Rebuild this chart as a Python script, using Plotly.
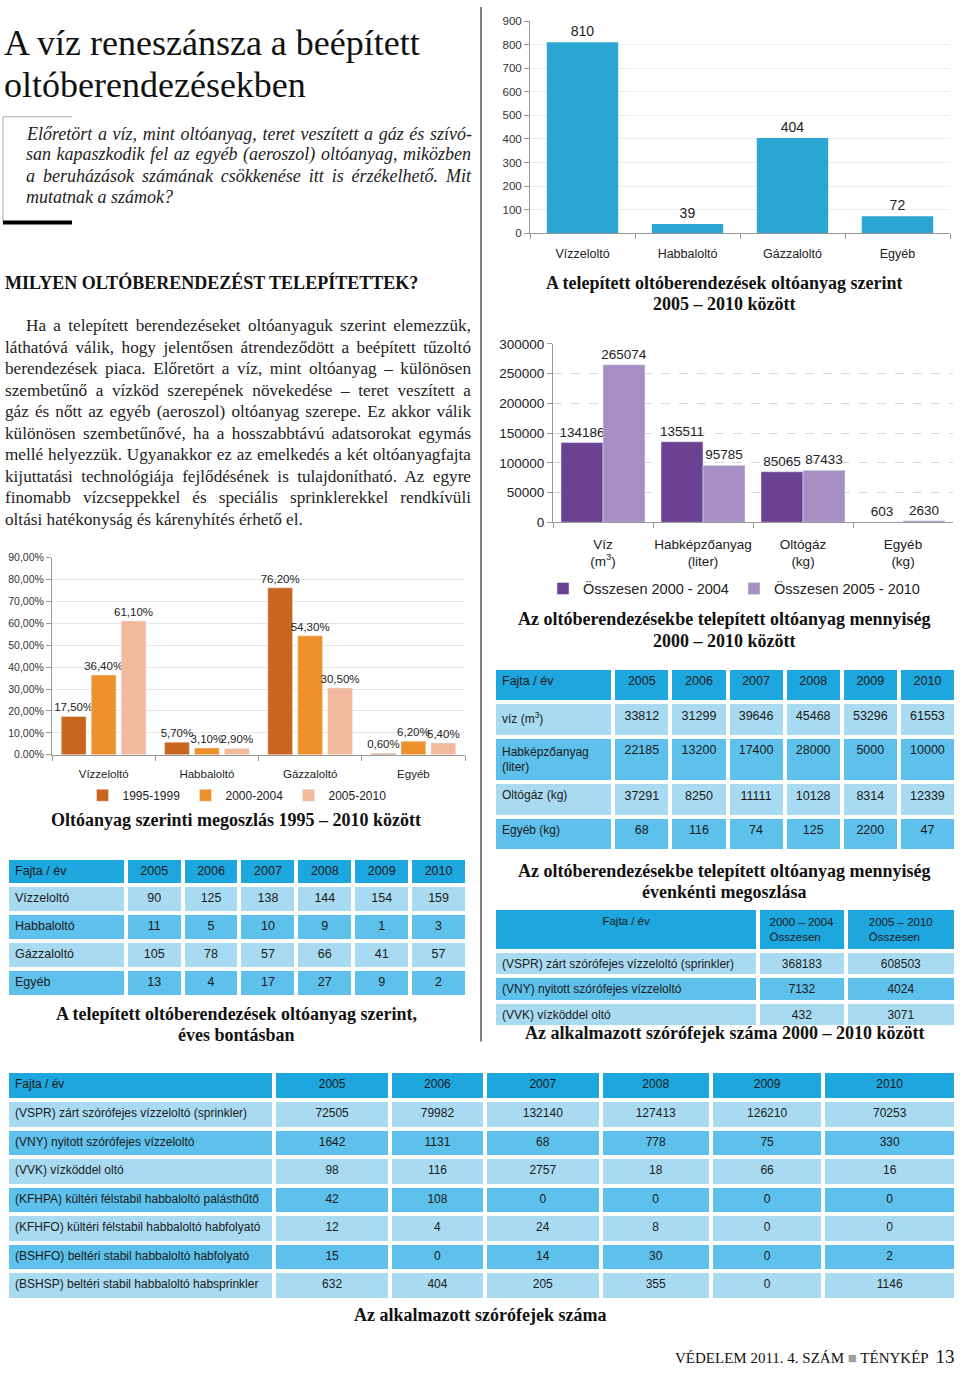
import json
import plotly.graph_objects as go

W, H = 960, 1373

# ---------------- DATA ----------------
cat_inst = ["Vízzeloltó", "Habbaloltó", "Gázzaloltó", "Egyéb"]
inst_total = [810, 39, 404, 72]

cat_agent = ["Víz<br>(m<sup>3</sup>)", "Habképzőanyag<br>(liter)", "Oltógáz<br>(kg)", "Egyéb<br>(kg)"]
agent_0004 = [134186, 135511, 85065, 603]
agent_0510 = [265074, 95785, 87433, 2630]

share_9599 = [17.5, 5.7, 76.2, 0.6]
share_0004 = [36.4, 3.1, 54.3, 6.2]
share_0510 = [61.1, 2.9, 30.5, 5.4]
share_ticks = [0, 10, 20, 30, 40, 50, 60, 70, 80, 90]
share_ticktext = ["0.00%", "10,00%", "20,00%", "30,00%", "40,00%", "50,00%",
                  "60,00%", "70,00%", "80,00%", "90,00%"]

years = ["2005", "2006", "2007", "2008", "2009", "2010"]

qty_rows = ["víz (m<sup>3</sup>)", "Habképzőanyag<br>(liter)", "Oltógáz (kg)", "Egyéb (kg)"]
qty_vals = [
    [33812, 31299, 39646, 45468, 53296, 61553],
    [22185, 13200, 17400, 28000, 5000, 10000],
    [37291, 8250, 11111, 10128, 8314, 12339],
    [68, 116, 74, 125, 2200, 47],
]

inst_rows = ["Vízzeloltó", "Habbaloltó", "Gázzaloltó", "Egyéb"]
inst_vals = [
    [90, 125, 138, 144, 154, 159],
    [11, 5, 10, 9, 1, 3],
    [105, 78, 57, 66, 41, 57],
    [13, 4, 17, 27, 9, 2],
]

head_rows = ["(VSPR) zárt szórófejes vízzeloltó (sprinkler)",
             "(VNY) nyitott szórófejes vízzeloltó",
             "(VVK) vízköddel oltó"]
head_period_cols = ["2000 – 2004<br>Összesen", "2005 – 2010<br>Összesen"]
head_period_vals = [[368183, 608503], [7132, 4024], [432, 3071]]

nozzle_rows = ["(VSPR) zárt szórófejes vízzeloltó (sprinkler)",
               "(VNY) nyitott szórófejes vízzeloltó",
               "(VVK) vízköddel oltó",
               "(KFHPA) kültéri félstabil habbaloltó palásthűtő",
               "(KFHFO) kültéri félstabil habbaloltó habfolyató",
               "(BSHFO) beltéri stabil habbaloltó habfolyató",
               "(BSHSP) beltéri stabil habbaloltó habsprinkler"]
nozzle_vals = [
    [72505, 79982, 132140, 127413, 126210, 70253],
    [1642, 1131, 68, 778, 75, 330],
    [98, 116, 2757, 18, 66, 16],
    [42, 108, 0, 0, 0, 0],
    [12, 4, 24, 8, 0, 0],
    [15, 0, 14, 30, 0, 2],
    [632, 404, 205, 355, 0, 1146],
]

intro = ["Előretört a víz, mint oltóanyag, teret veszített a gáz és szívó-",
         "san kapaszkodik fel az egyéb (aeroszol) oltóanyag, miközben",
         "a beruházások számának csökkenése itt is érzékelhető. Mit",
         "mutatnak a számok?"]

body = ["Ha a telepített berendezéseket oltóanyaguk szerint elemezzük,",
        "láthatóvá válik, hogy jelentősen átrendeződött a beépített tűzoltó",
        "berendezések piaca. Előretört a víz, mint oltóanyag – különösen",
        "szembetűnő a vízköd szerepének növekedése – teret veszített a",
        "gáz és nőtt az egyéb (aeroszol) oltóanyag szerepe. Ez akkor válik",
        "különösen szembetűnővé, ha a hosszabbtávú adatsorokat egymás",
        "mellé helyezzük. Ugyanakkor ez az emelkedés a két oltóanyagfajta",
        "kijuttatási technológiája fejlődésének is tulajdonítható. Az egyre",
        "finomabb vízcseppekkel és speciális sprinklerekkel rendkívüli",
        "oltási hatékonyság és kárenyhítés érhető el."]

# ---------------- STYLE ----------------
SERIF = "Liberation Serif, Times New Roman, serif"
SANS = "Liberation Sans, Arial, sans-serif"
HEAD_C = "#1ea6de"
LIGHT_C = "#a8daf2"
MED_C = "#5dc1eb"
TXT = "#1a1a1a"


def px(x):
    return x / W


def py(y):
    return 1 - y / H


fig = go.Figure()

# ---------------- CHART 1: installed by type ----------------
fig.add_trace(go.Bar(
    x=cat_inst, y=inst_total, xaxis="x", yaxis="y", width=0.68,
    marker=dict(color="#2ba5d1", line=dict(width=0)),
    text=[str(v) for v in inst_total], textposition="outside", constraintext="none",
    textfont=dict(family=SANS, size=14, color="#222"),
    cliponaxis=False, showlegend=False,
))

# ---------------- CHART 2: agent quantities ----------------
fig.add_trace(go.Bar(
    x=cat_agent, y=agent_0004, xaxis="x2", yaxis="y2", name="Összesen 2000 - 2004",
    marker=dict(color="#6a4291"), legend="legend", width=0.42, offset=-0.42,
    text=[str(v) for v in agent_0004], textposition="outside", constraintext="none",
    textfont=dict(family=SANS, size=13.5, color="#222"), cliponaxis=False,
))
fig.add_trace(go.Bar(
    x=cat_agent, y=agent_0510, xaxis="x2", yaxis="y2", name="Összesen 2005 - 2010",
    marker=dict(color="#a68fc3"), legend="legend", width=0.42, offset=0.0,
    text=[str(v) for v in agent_0510], textposition="outside", constraintext="none",
    textfont=dict(family=SANS, size=13.5, color="#222"), cliponaxis=False,
))

# ---------------- CHART 3: share by agent ----------------
def pct(v):
    return f"{v:.2f}".replace(".", ",") + "%"

for name, vals, col, off in [("1995-1999", share_9599, "#c9651d", -0.41),
                             ("2000-2004", share_0004, "#ef912a", -0.12),
                             ("2005-2010", share_0510, "#f3b99c", 0.17)]:
    fig.add_trace(go.Bar(
        x=cat_inst, y=vals, xaxis="x3", yaxis="y3", name=name, legend="legend2",
        marker=dict(color=col), width=0.24, offset=off,
        text=[pct(v) for v in vals], textposition="outside", constraintext="none",
        textfont=dict(family=SANS, size=11.5, color="#222"), cliponaxis=False,
    ))

# ---------------- TABLES ----------------
def fills(nrows, ncols):
    col = [LIGHT_C if r % 2 == 0 else MED_C for r in range(nrows)]
    return [col] * ncols


LINE = dict(color="white", width=4)

# right table 1: quantities per year
fig.add_trace(go.Table(
    domain=dict(x=[px(494), px(956)], y=[py(900), py(668)]),
    columnwidth=[119, 57, 57, 57, 57, 57, 57],
    header=dict(values=["Fajta / év"] + years, fill_color=HEAD_C, line=LINE, height=34.5,
                align=["left"] + ["center"] * 6,
                font=dict(family=SANS, size=12.5, color=TXT)),
    cells=dict(values=[qty_rows] + [[row[i] for row in qty_vals] for i in range(6)],
               fill_color=fills(4, 7), line=LINE, height=34.5,
               align=["left"] + ["center"] * 6,
               font=dict(family=SANS, size=[12] + [12.5] * 6, color=TXT)),
))

# left table: installed per year
fig.add_trace(go.Table(
    domain=dict(x=[px(7), px(467)], y=[py(1010), py(860)]),
    columnwidth=[119, 57, 57, 57, 57, 57, 57],
    header=dict(values=["Fajta / év"] + years, fill_color=HEAD_C, line=LINE, height=27,
                align=["left"] + ["center"] * 6,
                font=dict(family=SANS, size=12.5, color=TXT)),
    cells=dict(values=[inst_rows] + [[row[i] for row in inst_vals] for i in range(6)],
               fill_color=fills(4, 7), line=LINE, height=28,
               align=["left"] + ["center"] * 6,
               font=dict(family=SANS, size=12.5, color=TXT)),
))

# right table 2: nozzle heads by period
fig.add_trace(go.Table(
    domain=dict(x=[px(494), px(956)], y=[py(1060), py(911)]),
    columnwidth=[263, 87, 110],
    header=dict(values=["Fajta / év"] + head_period_cols, fill_color=HEAD_C, line=LINE,
                height=36, align=["center"] * 3,
                font=dict(family=SANS, size=11.5, color=TXT)),
    cells=dict(values=[head_rows] + [[row[i] for row in head_period_vals] for i in range(2)],
               fill_color=fills(3, 3), line=LINE, height=25.5,
               align=["left", "center", "center"],
               font=dict(family=SANS, size=12, color=TXT)),
))

# bottom table: nozzle heads per year
fig.add_trace(go.Table(
    domain=dict(x=[px(7), px(956)], y=[py(1330), py(1076)]),
    columnwidth=[264, 114, 94, 114, 109, 111, 131],
    header=dict(values=["Fajta / év"] + years, fill_color=HEAD_C, line=LINE, height=29,
                align=["left"] + ["center"] * 6,
                font=dict(family=SANS, size=12, color=TXT)),
    cells=dict(values=[nozzle_rows] + [[row[i] for row in nozzle_vals] for i in range(6)],
               fill_color=fills(7, 7), line=LINE, height=28.5,
               align=["left"] + ["center"] * 6,
               font=dict(family=SANS, size=12, color=TXT)),
))

# ---------------- AXES ----------------
axis_common = dict(showline=True, linecolor="#999", linewidth=1, ticks="outside",
                   tickcolor="#999", ticklen=5, fixedrange=True)

layout_axes = dict(
    xaxis=dict(domain=[px(530), px(950)], anchor="y", tickson="boundaries", tickangle=0,
               ticklabelstandoff=9,
               tickfont=dict(family=SANS, size=12.5, color="#222"), **axis_common),
    yaxis=dict(domain=[py(228.7), py(14.3)], anchor="x", range=[0, 900], dtick=100,
               showgrid=True, gridcolor="#ececec",
               tickfont=dict(family=SANS, size=11.5, color="#333"), **axis_common),
    xaxis2=dict(domain=[px(553), px(953)], anchor="y2", tickson="boundaries", tickangle=0,
                ticklabelstandoff=9,
                tickfont=dict(family=SANS, size=13.5, color="#222"), **axis_common),
    yaxis2=dict(domain=[py(521), py(340.7)], anchor="x2", range=[0, 300000], dtick=50000,
                tickformat="d", showgrid=True, gridcolor="#d9d9d9", griddash="dash",
                tickfont=dict(family=SANS, size=13.5, color="#222"), **axis_common),
    xaxis3=dict(domain=[px(52), px(465)], anchor="y3", tickson="boundaries", tickangle=0,
                ticklabelstandoff=8,
                tickfont=dict(family=SANS, size=11.5, color="#222"), **axis_common),
    yaxis3=dict(domain=[py(756), py(556.7)], anchor="x3", range=[0, 90],
                tickvals=share_ticks, ticktext=share_ticktext,
                showgrid=True, gridcolor="#e6e6e6",
                tickfont=dict(family=SANS, size=10.5, color="#333"), **axis_common),
)

# ---------------- TEXT ----------------
ann = []
justify = {}


def text(x, y, s, size, family=SERIF, anchor="left", color="#111", target=None, plain=None):
    ann.append(dict(x=px(x), y=py(y), xref="paper", yref="paper", text=s,
                    showarrow=False, xanchor=anchor, yanchor="middle",
                    align="left" if anchor == "left" else "center",
                    font=dict(family=family, size=size, color=color)))
    if target:
        justify[plain if plain else s] = target


text(2, 36, "A víz reneszánsza a beépített", 36)
text(2, 79, "oltóberendezésekben", 36)

for i, line in enumerate(intro):
    last = i == len(intro) - 1
    text(24, 128 + i * 21.5, f"<i>{line}</i>", 18, color="#222",
         target=None if last else 445, plain=line)

text(3, 279, "<b>MILYEN OLTÓBERENDEZÉST TELEPÍTETTEK?</b>", 18)

for i, line in enumerate(body):
    last = i == len(body) - 1
    x0 = 24 if i == 0 else 3
    text(x0, 322 + i * 21.8, line, 17.2, color="#222",
         target=None if last else 469 - x0, plain=line)

cap = 18
text(724, 279, "<b>A telepített oltóberendezések oltóanyag szerint</b>", cap, anchor="center")
text(724, 300, "<b>2005 – 2010 között</b>", cap, anchor="center")
text(724, 619, "<b>Az oltóberendezésekbe telepített oltóanyag mennyiség</b>", cap, anchor="center")
text(724, 641, "<b>2000 – 2010 között</b>", cap, anchor="center")
text(236, 822, "<b>Oltóanyag szerinti megoszlás 1995 – 2010 között</b>", cap, anchor="center")
text(724, 874, "<b>Az oltóberendezésekbe telepített oltóanyag mennyiség</b>", cap, anchor="center")
text(724, 895, "<b>évenkénti megoszlása</b>", cap, anchor="center")
text(236, 1018, "<b>A telepített oltóberendezések oltóanyag szerint,</b>", cap, anchor="center")
text(236, 1039, "<b>éves bontásban</b>", cap, anchor="center")
text(724, 1037, "<b>Az alkalmazott szórófejek száma 2000 – 2010 között</b>", cap, anchor="center")
text(480, 1322, "<b>Az alkalmazott szórófejek száma</b>", cap, anchor="center")
text(957, 1364, "VÉDELEM 2011. 4. SZÁM <span style='color:#a0a0a0'>■</span> TÉNYKÉP  "
     "<span style='font-size:19px'>13</span>", 15, anchor="right")

shapes = [
    dict(type="line", xref="paper", yref="paper", x0=px(481), x1=px(481), y0=py(0), y1=py(1046),
         line=dict(color="#555", width=1.5)),
    dict(type="line", xref="paper", yref="paper", x0=px(3), x1=px(3), y0=py(111), y1=py(218),
         line=dict(color="#aaa", width=1)),
    dict(type="line", xref="paper", yref="paper", x0=px(3), x1=px(72), y0=py(111), y1=py(111),
         line=dict(color="#aaa", width=1)),
    dict(type="line", xref="paper", yref="paper", x0=px(3), x1=px(72), y0=py(218), y1=py(218),
         line=dict(color="#000", width=4)),
]

fig.update_layout(
    width=W, height=H, margin=dict(l=0, r=0, t=0, b=0),
    paper_bgcolor="white", plot_bgcolor="white",
    barmode="group",
    annotations=ann, shapes=shapes,
    legend=dict(orientation="h", x=px(543), y=py(588), xanchor="left", yanchor="middle",
                font=dict(family=SANS, size=14.5, color="#222"), bgcolor="rgba(0,0,0,0)",
                itemwidth=30, entrywidth=146),
    legend2=dict(orientation="h", x=px(237), y=py(797), xanchor="center", yanchor="middle",
                 font=dict(family=SANS, size=12, color="#222"), bgcolor="rgba(0,0,0,0)",
                 itemwidth=30, entrywidth=58),
    **layout_axes,
)

post = """
document.documentElement.style.margin = '0';
document.body.style.margin = '0';
(function(){
  var J = %s;
  var els = document.querySelectorAll('text.annotation-text');
  els.forEach(function(el){
    var t = el.textContent;
    if (Object.prototype.hasOwnProperty.call(J, t)) {
      var cur = el.getComputedTextLength();
      var n = (t.match(/ /g) || []).length;
      if (n > 0 && J[t] > cur) { el.style.wordSpacing = ((J[t] - cur) / n) + 'px'; }
    }
  });
})();
""" % json.dumps(justify)

fig.write_html("out.html", post_script=post, config={"displayModeBar": False})
